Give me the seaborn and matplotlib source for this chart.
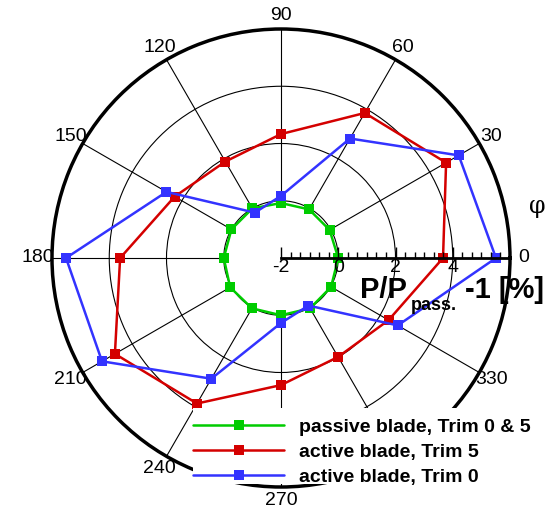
import numpy as np
import matplotlib
matplotlib.use("Agg")
import matplotlib.pyplot as plt
from matplotlib.patches import Rectangle
from matplotlib.lines import Line2D
import seaborn as sns

# Circumferential position of the blade [deg]
angles_deg = [0, 30, 60, 90, 120, 150, 180, 210, 240, 270, 300, 330]
# the 300 deg label sits under the legend panel and is left blank
angle_labels = ["0", "30", "60", "90", "120", "150", "180", "210", "240", "270", "", "330"]

# Relative pressure deviation P/P_pass. - 1 [%]
passive_trim_0_5 = [0.00, -0.04, -0.04, -0.08, 0.00, 0.00, 0.00, 0.05, 0.03, 0.00, 0.03, 0.02]
active_trim_5 = [3.66, 4.66, 3.85, 2.33, 1.89, 2.29, 3.62, 4.70, 3.87, 2.44, 1.99, 2.34]
active_trim_0 = [5.51, 5.17, 2.82, 0.17, -0.17, 2.62, 5.51, 5.22, 2.87, 0.27, -0.08, 2.71]

series_labels = ["passive blade, Trim 0 & 5", "active blade, Trim 5", "active blade, Trim 0"]
series_colors = ["#00cc00", "#d40000", "#3333ff"]

r_ticks = [-2, 0, 2, 4]
r_min, r_max = -2, 6

sns.set_theme(style="ticks")
plt.rcParams["font.family"] = ["Liberation Sans", "DejaVu Sans"]
plt.rcParams["text.color"] = "black"
plt.rcParams["xtick.color"] = "black"
plt.rcParams["ytick.color"] = "black"
plt.rcParams["xtick.labelcolor"] = "black"
plt.rcParams["legend.labelcolor"] = "black"

W, H = 556, 509
fig = plt.figure(figsize=(W / 100, H / 100), dpi=100)


def fx(x):
    return x / W


def fy(y):
    return 1 - y / H


# polar frame: centre (281, 258) px, radius 229 px
cx, cy, R = 281, 258, 229
rect = [fx(cx - R), fy(cy + R), 2 * R / W, 2 * R / H]
ax = fig.add_axes(rect, projection="polar")
ax.set_facecolor("white")
ax.set_ylim(r_min, r_max)

# circular grid
ax.set_yticks([0, 2, 4])
ax.set_yticklabels([])
ax.tick_params(axis="y", length=0)
ax.yaxis.grid(True, color="black", linewidth=0.8)
ax.xaxis.grid(False)

# angular spokes from r = 0 outward
for a in angles_deg[1:]:
    ax.plot([np.deg2rad(a)] * 2, [0, r_max], color="black", lw=0.8, zorder=1)

# angular ticks and labels
ax.set_xticks(np.deg2rad(angles_deg))
ax.set_xticklabels(angle_labels)
ax.set_xticks(np.deg2rad([d for d in range(0, 360, 6) if d % 30]), minor=True)
ax.tick_params(axis="x", which="major", direction="in", length=10, width=1.5,
               pad=3, labelsize=14, colors="black")
ax.tick_params(axis="x", which="minor", direction="in", length=5, width=1.0,
               colors="black")
ax.spines["polar"].set_linewidth(2.5)
ax.spines["polar"].set_color("black")

# data series, closed loops
theta = np.deg2rad(angles_deg + [360])
for vals, lab, col in zip([passive_trim_0_5, active_trim_5, active_trim_0],
                          series_labels, series_colors):
    sns.lineplot(x=theta, y=list(vals) + [vals[0]], ax=ax, sort=False,
                 estimator=None, color=col, linewidth=1.8, marker="s",
                 markersize=7.5, markeredgewidth=0, zorder=3)

# white panel behind the legend
ax.add_artist(Rectangle((fx(193), fy(484)), fx(552) - fx(193), fy(408) - fy(484),
                        transform=fig.transFigure, facecolor="white",
                        edgecolor="none", zorder=4, clip_on=False))

handles = [Line2D([], [], color=c, lw=1.8, marker="s", markersize=7.5,
                  markeredgewidth=0) for c in series_colors]
ax.legend(handles, series_labels, loc="upper left",
          bbox_to_anchor=(fx(193), fy(418)), bbox_transform=fig.transFigure,
          frameon=False, prop={"weight": "bold", "size": 14},
          handlelength=4.7, handletextpad=0.75, labelspacing=0.38,
          borderpad=0, borderaxespad=0)

# radial axis along 0 deg, drawn on a cartesian overlay with matching scale
ax2 = fig.add_axes(rect, facecolor="none")
span = r_max - r_min
ax2.set_xlim(r_min - span, r_max)
ax2.set_ylim(-span, span)
for s in ["top", "right", "left"]:
    ax2.spines[s].set_visible(False)
ax2.spines["bottom"].set_position(("data", 0))
ax2.spines["bottom"].set_bounds(r_min, r_max)
ax2.spines["bottom"].set_linewidth(2)
ax2.spines["bottom"].set_color("black")
ax2.set_yticks([])
ax2.set_xticks(r_ticks)
ax2.set_xticklabels([str(t) for t in r_ticks])
minor = [m for m in np.arange(r_min, r_max + 0.01, 1 / 3)
         if min(abs(m - t) for t in r_ticks + [r_max]) > 0.05]
ax2.set_xticks(minor, minor=True)
ax2.tick_params(axis="x", which="major", direction="in", length=8, width=1,
                labelsize=14, pad=1, bottom=True, colors="black")
ax2.tick_params(axis="x", which="minor", direction="in", length=4, width=1,
                bottom=True, colors="black")

# axis titles
fig.text(fx(360), fy(298), "P/P", fontsize=21, fontweight="bold", va="baseline")
fig.text(fx(411), fy(310), "pass.", fontsize=13, fontweight="bold", va="baseline")
fig.text(fx(465), fy(298), "-1 [%]", fontsize=21, fontweight="bold", va="baseline")
fig.text(fx(537), fy(207), "φ", fontsize=17, family=["DejaVu Serif"],
         ha="center", va="center")

fig.savefig("out.png", dpi=100, facecolor="white")
